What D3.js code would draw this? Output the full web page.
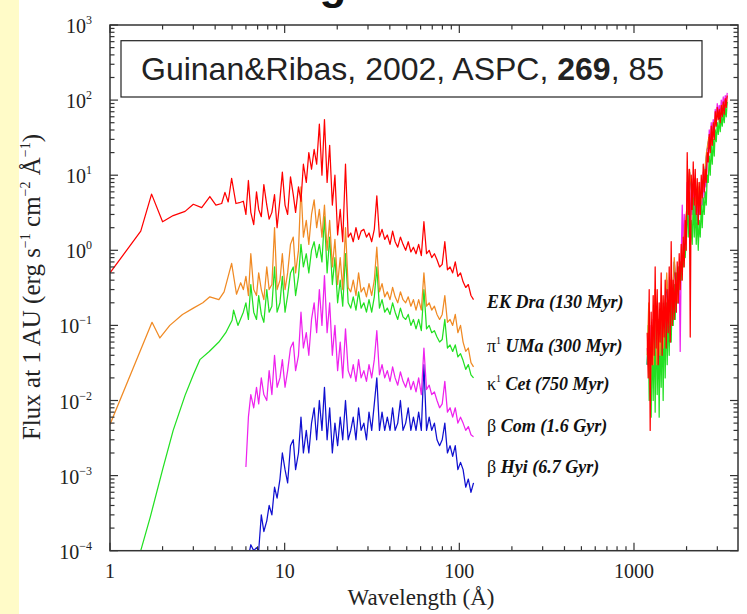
<!DOCTYPE html>
<html>
<head>
<meta charset="utf-8">
<script src="https://cdn.jsdelivr.net/npm/d3@7"></script>
<style>
body{margin:0;background:#fff;}
svg{display:block;}
</style>
</head>
<body>
<script>
// X-ray / EUV / UV fluxes of solar analogs (log-log)

// shared wavelength grid of the x-ray part (A)
var waveX=[5.8,6.0,6.2,6.4,6.65,6.9,7.1,7.35,7.6,7.9,8.15,8.45,8.75,9.05,9.4,9.7,10.05,10.4,10.8,11.2,11.55,12.0,12.4,12.8,13.3,13.75,14.25,14.75,15.25,15.8,16.35,16.9,17.5,18.1,18.75,19.4,20.1,20.8,21.5,22.3,23.1,23.9,24.7,25.6,26.5,27.4,28.4,29.4,30.4,31.5,32.6,33.7,34.9,36.1,37.4,38.7,40.1,41.5,42.9,44.4,46.0,47.6,49.3,51.0,52.8,54.6,56.5,58.5,60.6,62.7,64.9,67.2,69.5,72.0,74.5,77.1,79.8,82.6,85.5,88.5,91.6,94.8,98.1,101.6,105.1,108.8,112.6,116.6,120.6]
// fine UV grid (A), used by EK Dra, kappa1 Cet, beta Com
var waveUV=[1190,1206,1222,1238,1254,1271,1288,1305,1322,1340,1358,1376,1394,1412,1431,1450,1469,1489,1509,1529,1549,1570,1591,1612,1633,1655,1677,1699,1722,1745,1768,1791,1815,1839,1864,1889,1914,1939,1965,1991,2017,2044,2071,2099,2127,2155,2184,2213,2242,2272,2302,2333,2364,2395,2427,2459,2492,2525,2558,2592,2627,2662,2697,2733,2769,2806,2843,2881,2919,2958,2997,3037,3077,3118,3160,3202,3244,3287,3331,3375,3420]
// coarse UV grid (A), used by pi1 UMa, beta Hyi (hidden below the others)
var waveUVc=[1190,1215,1240,1265,1290,1320,1350,1380,1410,1440,1470,1500,1540,1580,1620,1660,1700,1745,1790,1835,1880,1930,1980,2030,2080,2140,2200,2260,2320,2390,2460,2530,2600,2680,2760,2840,2930,3020,3110,3200,3300,3400]

// hard part below the grid: [wavelength, flux]
var ekDraHard=[[1.0,0.5],[1.5,1.8],[1.73,5.6],[2.0,2.4],[2.3,2.9],[2.69,3.3],[3.0,4.1],[3.35,3.7],[3.73,5.2],[4.04,4.0],[4.36,4.2],[4.55,5.9],[4.75,4.4],[4.97,9.1],[5.26,4.2],[5.5,4.3]]
var piUMaHard=[[1.0,0.0048],[1.74,0.11],[1.93,0.068],[2.2,0.1],[2.6,0.14],[3.0,0.17],[3.4,0.2],[3.73,0.24],[4.2,0.22],[4.5,0.28],[4.97,0.67],[5.3,0.26],[5.6,0.37]]
var kapCetHard=[[1.5,0.0001],[1.7,0.00028],[2.0,0.0012],[2.3,0.004],[2.69,0.0117],[3.0,0.022],[3.27,0.035],[3.7,0.045],[4.2,0.06],[4.6,0.08],[5.0,0.117],[5.1,0.16],[5.4,0.1]]
var betComHard=[[6.0,0.0013]]
var betHyiHard=[[6.3,0.0001]]

// flux on waveX (erg s-1 cm-2 A-1 at 1 AU), null = no data
var ekDraX=[4.5,3.0,8.5,3.2,2.2,6.0,3.5,2.8,7.5,4.0,2.6,3.2,5.5,2.0,4.8,11,4.0,3.0,9.5,5.5,3.2,7.0,4.5,14,8,20,12,22,14,48,10,55,8,25,4,10,1.6,3.5,1.3,14,1.5,1.7,1.3,2.0,1.4,1.8,1.9,1.5,1.7,1.3,1.9,5.3,1.5,1.9,1.4,1.6,1.2,1.8,1.3,1.1,1.5,1.2,1.0,1.3,0.95,1.1,0.9,1.2,0.85,2.4,0.9,1.0,0.8,0.9,0.75,0.6,0.65,1.3,0.55,0.6,0.5,0.7,0.45,0.5,0.38,0.32,0.35,0.25,0.22]
var piUMaX=[0.3,0.45,0.25,0.9,0.3,0.25,0.5,0.3,0.22,0.6,0.3,0.35,2.0,0.3,0.4,0.9,0.3,0.5,1.2,1.5,0.5,1.0,7.0,1.5,2.5,1.2,3.0,4.7,2.0,3.5,1.5,4.0,1.0,2.5,0.6,1.4,0.35,0.8,0.3,2.0,0.32,0.28,0.4,0.25,0.5,0.28,0.32,0.24,0.36,0.25,0.4,1.1,0.28,0.36,0.24,0.28,0.22,0.32,0.24,0.2,0.28,0.22,0.2,0.24,0.18,0.22,0.16,0.22,0.16,0.5,0.18,0.2,0.16,0.18,0.14,0.12,0.14,0.25,0.11,0.12,0.1,0.14,0.08,0.1,0.06,0.045,0.05,0.032,0.028]
var kapCetX=[0.15,0.2,0.12,0.35,0.15,0.12,0.25,0.14,0.11,0.3,0.15,0.18,0.6,0.15,0.2,0.45,0.15,0.25,0.5,0.6,0.25,0.45,1.2,0.6,0.9,0.5,1.0,1.3,0.8,1.2,0.7,2.8,0.5,1.5,0.35,0.8,0.2,0.4,0.18,0.9,0.2,0.17,0.24,0.16,0.28,0.17,0.2,0.15,0.22,0.15,0.24,0.6,0.17,0.22,0.15,0.17,0.14,0.2,0.15,0.12,0.17,0.13,0.12,0.14,0.1,0.12,0.09,0.12,0.085,0.3,0.09,0.1,0.08,0.085,0.07,0.06,0.065,0.12,0.05,0.055,0.045,0.055,0.038,0.042,0.034,0.026,0.03,0.022,0.02]
var betComX=[null,0.0013,0.006,0.012,0.008,0.015,0.009,0.02,0.012,0.01,0.025,0.012,0.04,0.015,0.02,0.035,0.015,0.025,0.05,0.06,0.025,0.04,0.15,0.05,0.08,0.04,0.12,0.2,0.08,0.3,0.1,0.46,0.08,0.2,0.04,0.1,0.025,0.06,0.02,0.09,0.025,0.02,0.03,0.018,0.035,0.02,0.025,0.018,0.03,0.02,0.035,0.085,0.022,0.03,0.02,0.025,0.018,0.028,0.02,0.016,0.024,0.018,0.015,0.02,0.014,0.018,0.013,0.02,0.012,0.05,0.014,0.016,0.012,0.013,0.01,0.008,0.009,0.018,0.007,0.008,0.006,0.008,0.005,0.006,0.005,0.004,0.0045,0.0035,0.0033]
var betHyiX=[null,null,null,0.00012,0.0001,0.00011,0.0001,0.0003,0.00018,0.00025,0.0004,0.0003,0.0007,0.0005,0.0009,0.002,0.0012,0.0008,0.0025,0.003,0.0012,0.002,0.006,0.002,0.004,0.002,0.005,0.008,0.003,0.01,0.004,0.015,0.003,0.008,0.002,0.005,0.0025,0.006,0.003,0.01,0.003,0.004,0.006,0.003,0.008,0.004,0.005,0.003,0.007,0.004,0.009,0.02,0.004,0.007,0.004,0.006,0.004,0.008,0.004,0.005,0.01,0.004,0.005,0.008,0.004,0.006,0.004,0.007,0.004,0.03,0.004,0.006,0.004,0.005,0.003,0.0025,0.003,0.005,0.002,0.0025,0.0018,0.0025,0.0012,0.0015,0.0012,0.0007,0.0009,0.0006,0.0008]

// flux on waveUV
var ekDraUV=[0.08,0.02,0.3,0.004,0.15,0.03,0.25,0.04,0.6,0.05,0.3,0.03,0.2,0.06,0.5,0.04,0.25,0.07,0.4,0.05,0.3,0.08,0.6,0.06,1.3,0.1,0.4,0.12,0.5,0.15,0.7,0.2,0.9,0.3,1.2,0.4,1.5,0.6,2.5,1.0,20,3,12,0.07,10,3.5,15,4,12,3,9,2.2,8,3,10,5,14,6,12,8,20,15,35,20,45,25,50,30,70,45,80,55,75,50,85,60,95,65,105,80,115]
var kapCetUV=[0.03,0.1,0.01,0.05,0.006,0.08,0.01,0.1,0.007,0.15,0.012,0.08,0.006,0.1,0.015,0.12,0.01,0.15,0.02,0.2,0.03,0.15,0.04,0.3,0.06,0.25,0.1,0.35,0.12,0.5,0.2,0.6,0.3,0.7,0.4,0.9,0.6,1.2,0.8,1.6,4,1.5,3,1.0,2.5,1.2,5,1.5,4,1.2,3,1.0,2.5,1.5,4,2,5,3,6,4,10,8,18,10,25,14,30,18,40,28,50,35,55,38,60,45,70,50,80,60,95]
var betComUV=[0.05,0.03,0.08,0.03,0.1,0.04,0.12,0.05,0.2,0.04,0.15,0.05,0.1,0.04,0.2,0.05,0.15,0.06,0.2,0.05,0.15,0.07,0.3,0.06,0.4,0.1,0.3,0.12,0.35,0.15,0.5,0.2,0.6,0.045,0.8,4,1.0,3,1.2,1.5,8,2.5,6,2,7,3,9,3,8,2.5,6,2.2,6,3,8,4,11,5,10,7,22,15,40,25,50,30,55,40,75,55,90,65,85,60,100,75,110,80,115,95,125]
// flux on waveUVc
var piUMaUV=[0.04,0.2,0.015,0.1,0.03,0.3,0.03,0.12,0.04,0.25,0.05,0.15,0.5,0.1,0.4,0.2,0.8,0.3,0.2,0.6,0.6,1.5,2.8,4.5,12,6,9,4,8,3.5,6,10,20,32,25,38,60,70,60,85,85,100]
var betHyiUV=[0.03,0.1,0.02,0.06,0.02,0.15,0.03,0.08,0.03,0.2,0.04,0.15,0.4,0.1,0.3,0.2,0.7,0.3,0.2,0.5,0.6,1.4,2.5,4.0,11,6,8,4,7,3,6,9,18,30,25,35,55,65,55,80,80,95]

var colors=["#ff0000","#f08a24","#22e022","#ee22ee","#1010d0"]
var labelPre=["","π","κ","β","β"]
var labelSup=["","1","1","",""]
var labelName=["EK Dra (130 Myr)"," UMa (300 Myr)"," Cet (750 Myr)"," Com (1.6 Gyr)"," Hyi (6.7 Gyr)"]

var xTicks=[1,10,100,1000]
var yExp=[-4,-3,-2,-1,0,1,2,3]

var W=747,H=614
var plot={left:110,right:738,top:25,bottom:550.7}

const svg=d3.select("body").append("svg").attr("width",W).attr("height",H)

// yellow strip on the left of the slide
svg.append("rect").attr("x",0).attr("y",0).attr("width",19).attr("height",H).attr("fill","#fffbc8")

var x=d3.scaleLog().domain([1,3940]).range([plot.left,plot.right])
var y=d3.scaleLog().domain([1e-4,1e3]).range([plot.bottom,plot.top])

// slide title, only the descender of its "g" shows above the frame
var title=svg.append("text").attr("x",0).attr("y",-1)
	.attr("font-family","Liberation Sans, Arial, sans-serif").attr("font-weight","bold").attr("font-size",44)
	.attr("fill","#111").text("The Sun through Time")
{
	let ext=title.node().getExtentOfChar(13)
	title.attr("x",333-(ext.x+ext.width/2))
}

svg.append("defs").append("clipPath").attr("id","clip")
	.append("rect").attr("x",plot.left).attr("y",plot.top)
	.attr("width",plot.right-plot.left).attr("height",plot.bottom-plot.top)

function series(hard,xv,uv,uvWave){
	let a=hard.slice()
	xv.forEach((v,i)=>{ if(v!=null) a.push([waveX[i],v]) })
	let b=uv.map((v,i)=>[uvWave[i],v])
	return [a,b]
}
var all=[
	series(ekDraHard,ekDraX,ekDraUV,waveUV),
	series(piUMaHard,piUMaX,piUMaUV,waveUVc),
	series(kapCetHard,kapCetX,kapCetUV,waveUV),
	series(betComHard,betComX,betComUV,waveUV),
	series(betHyiHard,betHyiX,betHyiUV,waveUVc)
]

var line=d3.line().x(d=>x(d[0])).y(d=>y(Math.max(d[1],1e-5)))

var g=svg.append("g").attr("clip-path","url(#clip)")
// draw faint stars first, EK Dra on top
for(let i=all.length-1;i>=0;i--){
	for(const part of all[i]){
		g.append("path").attr("d",line(part)).attr("fill","none")
			.attr("stroke",colors[i]).attr("stroke-width",1.25).attr("stroke-linejoin","round")
	}
}

// axes: frame with inward ticks
var axisCol="#333"
svg.append("rect").attr("x",plot.left).attr("y",plot.top)
	.attr("width",plot.right-plot.left).attr("height",plot.bottom-plot.top)
	.attr("fill","none").attr("stroke",axisCol).attr("stroke-width",1.5)

var xMinor=[]
for(const d of [1,10,100,1000]) for(let k=2;k<=9;k++) if(d*k<3940) xMinor.push(d*k)
var yMinor=[]
for(const e of yExp) if(e<3) for(let k=2;k<=9;k++) yMinor.push(k*Math.pow(10,e))

var tk=svg.append("g").attr("stroke",axisCol).attr("stroke-width",1.2)
function xt(vals,len){
	vals.forEach(v=>{
		tk.append("line").attr("x1",x(v)).attr("x2",x(v)).attr("y1",plot.bottom).attr("y2",plot.bottom-len)
		tk.append("line").attr("x1",x(v)).attr("x2",x(v)).attr("y1",plot.top).attr("y2",plot.top+len)
	})
}
function yt(vals,len){
	vals.forEach(v=>{
		tk.append("line").attr("y1",y(v)).attr("y2",y(v)).attr("x1",plot.left).attr("x2",plot.left+len)
		tk.append("line").attr("y1",y(v)).attr("y2",y(v)).attr("x1",plot.right).attr("x2",plot.right-len)
	})
}
xt(xTicks,8);xt(xMinor,4.5)
yt(yExp.map(e=>Math.pow(10,e)),8);yt(yMinor,4.5)

var serif="Liberation Serif, Times New Roman, serif"
svg.append("g").selectAll("text").data(xTicks).join("text")
	.attr("x",d=>x(d)).attr("y",plot.bottom+27).attr("text-anchor","middle")
	.attr("font-family",serif).attr("font-size",20).attr("fill","#222").text(d=>d)

var yl=svg.append("g").selectAll("text").data(yExp).join("text")
	.attr("x",92).attr("y",d=>y(Math.pow(10,d))+8).attr("text-anchor","end")
	.attr("font-family",serif).attr("font-size",20).attr("fill","#222")
yl.append("tspan").text("10")
yl.append("tspan").attr("dy",-9).attr("font-size",12).text(d=>(d<0?"\u2212":"")+Math.abs(d))

svg.append("text").attr("x",421).attr("y",605).attr("text-anchor","middle")
	.attr("font-family",serif).attr("font-size",23).attr("fill","#222").text("Wavelength (Å)")

var yt1=svg.append("text").attr("transform","translate(40,287) rotate(-90)").attr("text-anchor","middle")
	.attr("font-family",serif).attr("font-size",25).attr("fill","#222")
yt1.append("tspan").text("Flux at 1 AU (erg s")
yt1.append("tspan").attr("dy",-10).attr("font-size",14).text("\u22121")
yt1.append("tspan").attr("dy",10).text(" cm")
yt1.append("tspan").attr("dy",-10).attr("font-size",14).text("\u22122")
yt1.append("tspan").attr("dy",10).text(" Å")
yt1.append("tspan").attr("dy",-10).attr("font-size",14).text("\u22121")
yt1.append("tspan").attr("dy",10).text(")")

// star labels
var labY=[308,351.5,390,431.5,473]
labelName.forEach((n,i)=>{
	let t=svg.append("text").attr("x",487).attr("y",labY[i])
		.attr("font-family",serif).attr("font-size",18).attr("fill","#111")
	if(labelPre[i]) t.append("tspan").text(labelPre[i])
	if(labelSup[i]) t.append("tspan").attr("dy",-8).attr("font-size",10).text(labelSup[i])
	t.append("tspan").attr("dy",labelSup[i]?8:0).attr("font-weight","bold").attr("font-style","italic").text(n)
})

// reference box
svg.append("rect").attr("x",121).attr("y",40.7).attr("width",581).attr("height",56.3)
	.attr("fill","#fff").attr("stroke","#222").attr("stroke-width",1.2)
var ref=svg.append("text").attr("x",141).attr("y",80)
	.attr("font-family","Liberation Sans, Arial, sans-serif").attr("font-size",32).attr("fill","#222")
ref.append("tspan").text("Guinan&Ribas, 2002, ASPC, ")
ref.append("tspan").attr("font-weight","bold").text("269")
ref.append("tspan").text(", 85")
</script>
</body>
</html>
